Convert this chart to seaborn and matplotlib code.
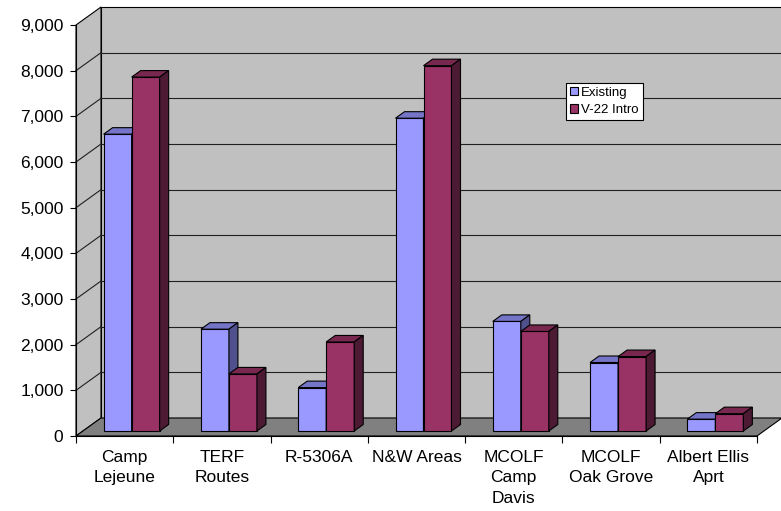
import numpy as np
import pandas as pd
import matplotlib
matplotlib.use("Agg")
import matplotlib.pyplot as plt
import matplotlib.transforms as mtransforms
from matplotlib.patches import Polygon, Patch
import seaborn as sns

# ---- data -------------------------------------------------------------
categories = ["Camp\nLejeune", "TERF\nRoutes", "R-5306A", "N&W Areas",
              "MCOLF\nCamp\nDavis", "MCOLF\nOak Grove", "Albert Ellis\nAprt"]
series_names = ["Existing", "V-22 Intro"]
existing = [6500, 2230, 950, 6850, 2400, 1500, 260]
v22_intro = [7750, 1250, 1950, 8000, 2180, 1630, 380]
y_ticks = list(range(0, 10000, 1000))

df = pd.DataFrame({
    "category": categories * 2,
    "series": [series_names[0]] * len(categories) + [series_names[1]] * len(categories),
    "value": existing + v22_intro,
})

face_colors = {"Existing": "#9999FF", "V-22 Intro": "#993366"}
top_colors = {"Existing": "#7575C8", "V-22 Intro": "#78284F"}
side_colors = {"Existing": "#50508C", "V-22 Intro": "#4C1A33"}

plt.rcParams["font.family"] = ["Liberation Sans", "DejaVu Sans"]

# ---- figure / plot box (front plane of the 3-D box) -------------------
W, H = 781, 511
fig = plt.figure(figsize=(W / 100, H / 100), dpi=100)
fig.patch.set_facecolor("white")
left_px, right_px, bottom_px, top_px = 76, 757, 436, 25
ax = fig.add_axes([left_px / W, 1 - bottom_px / H,
                   (right_px - left_px) / W, (bottom_px - top_px) / H])
ax.set_facecolor("none")
n = len(categories)
ymax = 9000
ax.set_xlim(-0.5, n - 0.5)
ax.set_ylim(0, ymax)

px_x = (right_px - left_px) / n          # pixels per category
px_y = (bottom_px - top_px) / ymax       # pixels per value unit


def to_data(dx_px, dy_px):
    return dx_px / px_x, dy_px / px_y


# depth of the whole box and of each bar, in pixels
box_dx, box_dy = to_data(25, 18)
bar_dx, bar_dy = to_data(9, 6.5)

# ---- walls, floor, gridlines -----------------------------------------
wall_col, floor_col = "#C0C0C0", "#808080"
xl, xr = -0.5, n - 0.5
back = Polygon([(xl + box_dx, box_dy), (xr + box_dx, box_dy),
                (xr + box_dx, ymax + box_dy), (xl + box_dx, ymax + box_dy)],
               closed=True, facecolor=wall_col, edgecolor="black", lw=0.8,
               clip_on=False, zorder=0.5)
side = Polygon([(xl, 0), (xl, ymax), (xl + box_dx, ymax + box_dy), (xl + box_dx, box_dy)],
               closed=True, facecolor=wall_col, edgecolor="black", lw=0.8,
               clip_on=False, zorder=0.5)
floor = Polygon([(xl, 0), (xr, 0), (xr + box_dx, box_dy), (xl + box_dx, box_dy)],
                closed=True, facecolor=floor_col, edgecolor="black", lw=0.8,
                clip_on=False, zorder=0.7)
for p in (back, side, floor):
    ax.add_patch(p)

for v in y_ticks[1:-1]:
    ax.plot([xl + box_dx, xr + box_dx], [v + box_dy, v + box_dy],
            color="#202020", lw=0.8, clip_on=False, zorder=0.6)
    ax.plot([xl, xl + box_dx], [v, v + box_dy],
            color="#202020", lw=0.8, clip_on=False, zorder=0.6)

# ---- bars --------------------------------------------------------------
sns.barplot(data=df, x="category", y="value", hue="series", order=categories,
            hue_order=series_names, palette=face_colors, saturation=1,
            width=0.5756, edgecolor="black", linewidth=0.8, legend=False, ax=ax)

bar_trans = mtransforms.offset_copy(ax.transData, fig=fig, x=7, y=5, units="dots")
for name, container in zip(series_names, ax.containers):
    z = 2 + series_names.index(name)
    for bar in container:
        bar.set_transform(bar_trans)
        bar.set_zorder(z)
        bar.set_clip_on(False)
        x0 = bar.get_x()
        x1 = x0 + bar.get_width()
        h = bar.get_height()
        top = Polygon([(x0, h), (x1, h), (x1 + bar_dx, h + bar_dy), (x0 + bar_dx, h + bar_dy)],
                      closed=True, facecolor=top_colors[name], edgecolor="black",
                      lw=0.8, transform=bar_trans, clip_on=False, zorder=z)
        rside = Polygon([(x1, 0), (x1, h), (x1 + bar_dx, h + bar_dy), (x1 + bar_dx, bar_dy)],
                        closed=True, facecolor=side_colors[name], edgecolor="black",
                        lw=0.8, transform=bar_trans, clip_on=False, zorder=z)
        ax.add_patch(top)
        ax.add_patch(rside)

# ---- axes, ticks, labels ----------------------------------------------
for s in ("top", "right"):
    ax.spines[s].set_visible(False)
for s in ("left", "bottom"):
    ax.spines[s].set_color("black")
    ax.spines[s].set_linewidth(0.8)
    ax.spines[s].set_zorder(4)

ax.set_yticks(y_ticks)
ax.set_yticklabels([f"{v:,}" for v in y_ticks])
ax.tick_params(axis="y", direction="out", length=4.5, width=0.8, pad=4.5,
               labelsize=12.5, colors="black")

ax.set_xticks(np.arange(-0.5, n, 1.0))
ax.set_xticklabels([""] * (n + 1))
ax.set_xticks(np.arange(n), minor=True)
ax.set_xticklabels(categories, minor=True, linespacing=1.45)
ax.tick_params(axis="x", which="major", direction="out", length=5, width=0.8)
ax.tick_params(axis="x", which="minor", length=0, pad=10, labelsize=12.5)
ax.set_xlabel("")
ax.set_ylabel("")

# ---- legend -------------------------------------------------------------
handles = [Patch(facecolor=face_colors[s], edgecolor="black", lw=0.8) for s in series_names]
leg = ax.legend(handles, series_names, loc="upper left",
                bbox_to_anchor=(566 / W, 1 - 83 / H), bbox_transform=fig.transFigure,
                borderaxespad=0, fontsize=9.5, fancybox=False, framealpha=1,
                edgecolor="black", borderpad=0.3, handlelength=0.6, handleheight=0.6,
                handletextpad=0.25, labelspacing=0.4)
leg.get_frame().set_linewidth(0.8)
leg.set_zorder(6)

fig.savefig("out.png", dpi=100, facecolor="white")
